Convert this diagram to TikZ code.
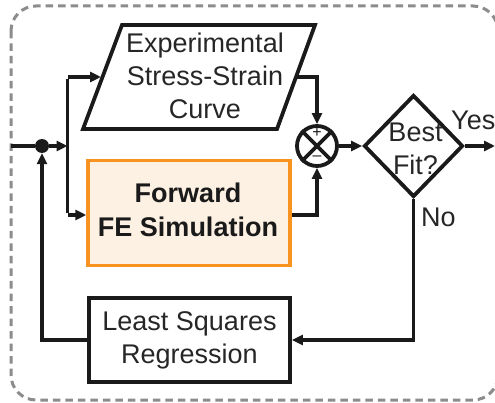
\documentclass[tikz,border=0pt]{standalone}
\usepackage{fontspec}
\setmainfont{Liberation Sans}
\usetikzlibrary{arrows.meta,shapes.geometric}
\definecolor{ln}{HTML}{1A1A1A}
\definecolor{tx}{HTML}{262626}
\definecolor{orng}{HTML}{F7931E}
\definecolor{peach}{HTML}{FDF1E3}
\definecolor{dashgray}{HTML}{8C8C8C}
\tikzset{
  wire/.style={draw=ln, line width=3.8pt, -{Triangle[length=11pt,width=10pt]}},
  plainwire/.style={draw=ln, line width=3.8pt},
  lbl/.style={text=tx, font=\fontsize{27}{33}\selectfont, align=center, inner sep=0pt},
  boxnode/.style={draw=ln, line width=3.8pt, inner sep=0pt},
}
\begin{document}
\begin{tikzpicture}[x=1pt,y=-1pt]
\useasboundingbox (0,0) rectangle (495,403);
% dashed frame
\draw[dashgray, line width=3pt, dash pattern=on 7.5pt off 5pt, rounded corners=25pt] (11,6) rectangle (498,400);

% parallelogram
\draw[plainwire, line join=miter] (122,25) -- (315,25) -- (277,129) -- (83,129) -- cycle;
\node[lbl] (exp) at (205,76) {Experimental\\Stress-Strain\\Curve};
\coordinate (expL) at (101,77);
\coordinate (expR) at (296,77);

% forward FE box
\node[draw=orng, fill=peach, line width=3.5pt, minimum width=202pt, minimum height=105pt, inner sep=0pt] (fe) at (189,213) {};
\node[lbl, text=ln, font=\fontsize{27}{34}\bfseries\selectfont] (fetext) at (188,210) {Forward\\FE Simulation};

% summing junction
\node[boxnode, circle, minimum size=40pt] (sum) at (317,146) {};
\draw[plainwire] (sum.north east) -- (sum.south west);
\draw[plainwire] (sum.north west) -- (sum.south east);
\node[text=ln, font=\fontsize{16}{16}\selectfont, inner sep=0pt] (plus) at (317,133) {+};
\node[text=ln, font=\fontsize{16}{16}\selectfont, inner sep=0pt] (minus) at (317,158.5) {–};

% decision diamond
\node[boxnode, diamond, minimum width=99pt, minimum height=102pt] (fit) at (413.5,146) {};
\node[lbl] (fittext) at (415.5,149) {Best\\Fit?};

% least squares box
\node[boxnode, minimum width=201pt, minimum height=84pt, lbl, draw=ln] (ls) at (189.5,340) {Least Squares\\Regression};

% branch dot
\node[circle, fill=ln, minimum size=14pt, inner sep=0pt] (dot) at (42,146) {};

% coordinates
\coordinate (in) at (11,146);
\coordinate (br) at (67.5,146);
\coordinate (brT) at (67.5,77);
\coordinate (brB) at (67.5,215);
\coordinate (out) at (495,146);

% connectors
\draw[plainwire] (in) -- (dot);
\draw[wire] (dot) -- (br);
\draw[plainwire] ([yshift=-1.9pt]brT) -- ([yshift=1.9pt]brB);
\draw[wire] (brT) -- (expL);
\draw[wire] (brB) -- (fe.west |- brB);
\draw[wire] (expR) -| (sum.north);
\draw[wire] ([yshift=-2pt]fe.east) -| (sum.south);
\draw[wire] (sum.east) -- (fit.west);
\draw[wire] (fit.east) -- (out);
\draw[wire] (fit.south) |- (ls.east);
\draw[wire] (ls.west) -| (dot.south);

% branch labels
\node[lbl, anchor=west] (yes) at (451,120) {Yes};
\node[lbl, anchor=west] (no) at (421,217) {No};
\end{tikzpicture}
\end{document}
